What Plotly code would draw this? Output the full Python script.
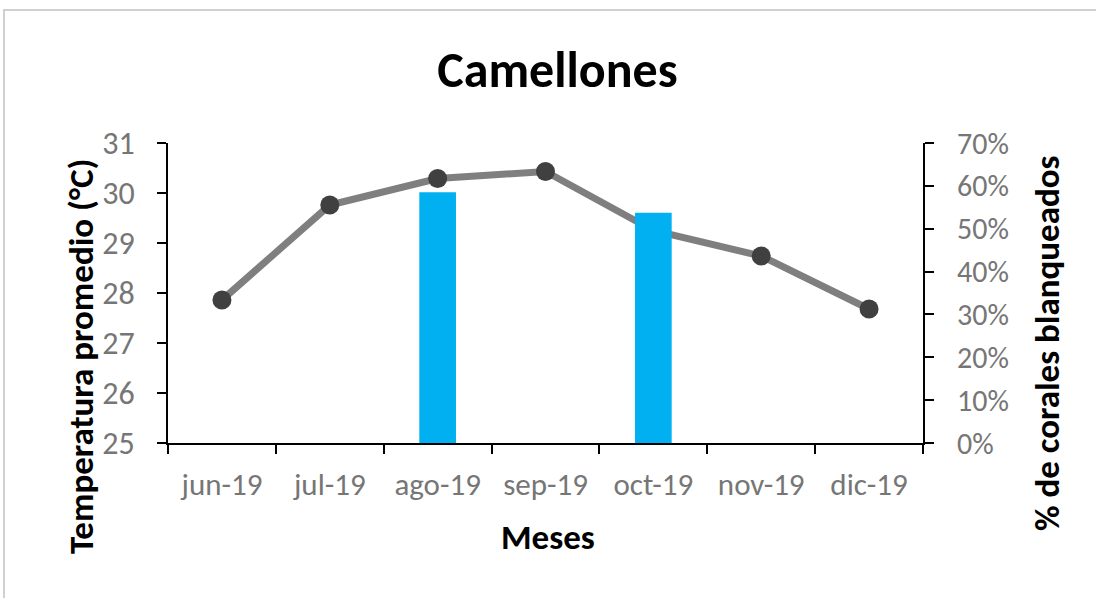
import plotly.graph_objects as go

months = ["jun-19", "jul-19", "ago-19", "sep-19", "oct-19", "nov-19", "dic-19"]
temperature = [27.86, 29.76, 30.29, 30.43, 29.25, 28.74, 27.68]
bleached = [None, None, 0.585, None, 0.537, None, None]

FONT = "Carlito, Calibri, 'Noto Sans', sans-serif"
TICK_GREY = "#767676"

W, H = 1096, 598
L, R, T, B = 168, 923, 143, 443  # plot area in pixels


def px_x(x):
    return (x - L) / (R - L)


def px_y(y):
    return (B - y) / (B - T)


fig = go.Figure()
fig.add_trace(go.Bar(x=months, y=bleached, yaxis="y2", marker=dict(color="#00b0f0", line=dict(width=0)),
                     name="% corales blanqueados", showlegend=False))
fig.add_trace(go.Scatter(x=months, y=temperature, mode="lines+markers",
                         line=dict(color="#7f7f7f", width=7),
                         marker=dict(color="#404040", size=19),
                         name="Temperatura", showlegend=False))

fig.update_layout(
    width=W, height=H,
    margin=dict(l=L, r=W - R, t=T, b=H - B),
    paper_bgcolor="white", plot_bgcolor="white",
    font=dict(family=FONT, color=TICK_GREY, size=28),
    bargap=0.66,
    title=dict(text="<b>Camellones</b>", x=px_x(552), xanchor="center", y=1 - 69 / H, yanchor="middle",
               font=dict(size=50, color="black", family=FONT)),
    xaxis=dict(type="category", showline=True, linecolor="black", linewidth=2,
               ticks="outside", ticklen=9, tickwidth=2, tickcolor="black", tickson="boundaries",
               showgrid=False, zeroline=False, tickfont=dict(size=31, color=TICK_GREY),
               ticklabelstandoff=13),
    yaxis=dict(range=[25, 31], dtick=1, showline=True, linecolor="black", linewidth=2,
               ticks="outside", ticklen=9, tickwidth=2, tickcolor="black",
               showgrid=False, zeroline=False, tickfont=dict(size=32, color=TICK_GREY),
               ticklabelstandoff=16),
    yaxis2=dict(range=[0, 0.7], dtick=0.1, tickformat=".0%", overlaying="y", side="right",
                showline=True, linecolor="black", linewidth=2,
                ticks="outside", ticklen=9, tickwidth=2, tickcolor="black",
                showgrid=False, zeroline=False, tickfont=dict(size=30, color=TICK_GREY),
                ticklabelstandoff=17),
    annotations=[
        dict(text="<b>Temperatura promedio (°C)</b>", textangle=-90, xref="paper", yref="paper",
             x=px_x(81), y=px_y(357), xanchor="center", yanchor="middle",
             showarrow=False, font=dict(size=35, color="black", family=FONT)),
        dict(text="<b>% de corales blanqueados</b>", textangle=-90, xref="paper", yref="paper",
             x=px_x(1047), y=px_y(343), xanchor="center", yanchor="middle",
             showarrow=False, font=dict(size=35, color="black", family=FONT)),
        dict(text="<b>Meses</b>", xref="paper", yref="paper",
             x=px_x(548), y=px_y(537), xanchor="center", yanchor="middle",
             showarrow=False, font=dict(size=35, color="black", family=FONT)),
    ],
    shapes=[
        dict(type="rect", xref="paper", yref="paper",
             x0=px_x(4), x1=px_x(1110), y0=px_y(620), y1=px_y(10),
             line=dict(color="#d0d0d0", width=2), fillcolor="rgba(0,0,0,0)", layer="below"),
    ],
)

fig.write_html("out.html", config={"displayModeBar": False},
               post_script="document.body.style.margin='0';")
